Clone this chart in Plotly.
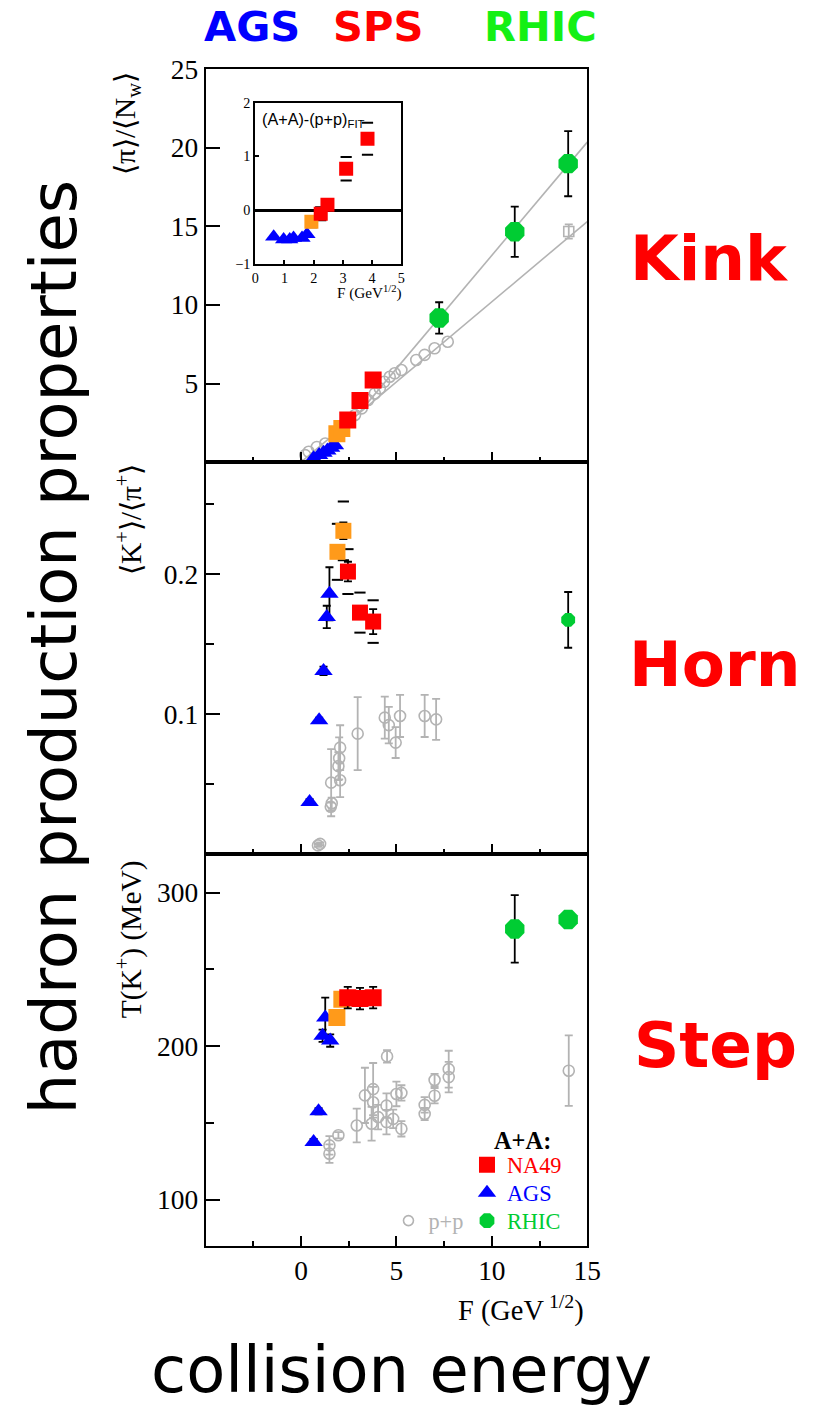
import plotly.graph_objects as go

# ---------------- data: top panel  <pi>/<N_w> ----------------
pi_ags_F = [0.66, 0.95, 1.18, 1.38, 1.58, 1.78]
pi_ags_val = [0.25, 0.45, 0.6, 0.75, 0.92, 1.08]
pi_or_F = [1.88, 2.14]
pi_or_val = [1.8, 2.14]
pi_na49_F = [2.45, 3.09, 3.78]
pi_na49_val = [2.68, 3.92, 5.22]
pi_rhic_F = [7.24, 11.2, 14.0]
pi_rhic_val = [9.17, 14.65, 18.98]
pi_rhic_err = [1.0, 1.6, 2.07]
pi_pp_F = [0.22, 0.4, 0.83, 1.27, 1.79, 2.14, 2.57, 2.83, 3.18, 3.52, 3.87, 4.13,
           4.36, 4.65, 4.91, 5.26, 6.04, 6.48, 7.0, 7.69]
pi_pp_val = [0.45, 0.66, 0.97, 1.19, 1.61, 2.04, 2.67, 3.0, 3.42, 3.95, 4.37, 4.69,
             5.11, 5.43, 5.65, 5.86, 6.5, 6.82, 7.24, 7.66]
pi_pp_rhic_F = [14.03]
pi_pp_rhic_val = [14.67]
pi_pp_rhic_err = [0.45]
fit_pp_F = [0.0, 15.0]
fit_pp_val = [0.0, 15.3]
fit_aa_F = [2.98, 15.0]
fit_aa_val = [3.04, 20.35]

# ---------------- data: inset (A+A)-(p+p)_FIT ----------------
d_ags_F = [0.63, 0.97, 1.18, 1.31, 1.6, 1.77]
d_ags_val = [-0.5, -0.55, -0.55, -0.52, -0.52, -0.45]
d_or_F = [1.92]
d_or_val = [-0.22]
d_or_err = [0.1]
d_na49_F = [2.24, 2.47, 3.11, 3.84]
d_na49_val = [-0.07, 0.1, 0.77, 1.33]
d_na49_err = [0.12, 0.08, 0.22, 0.3]

# ---------------- data: middle panel <K+>/<pi+> ----------------
kp_ags_F = [0.45, 0.95, 1.18, 1.35, 1.49]
kp_ags_val = [0.0374, 0.0957, 0.131, 0.1695, 0.186]
kp_ags_err = [0.002, 0.002, 0.003, 0.008, 0.019]
kp_or_F = [1.91, 2.22]
kp_or_val = [0.216, 0.231]
kp_or_stat = [0.003, 0.006]
kp_or_sys = [0.020, 0.021]
kp_na49_F = [2.46, 3.09, 3.78]
kp_na49_val = [0.2019, 0.1726, 0.1662]
kp_na49_stat = [0.007, 0.004, 0.0089]
kp_na49_sys = [0.016, 0.0143, 0.0152]
kp_rhic_F = [14.0]
kp_rhic_val = [0.1674]
kp_rhic_err = [0.0199]
kp_pp_F = [0.89, 1.0, 1.56, 1.61, 1.58, 2.05, 1.96, 2.0, 2.05, 2.97, 4.39, 4.6,
           4.96, 5.19, 6.48, 7.08]
kp_pp_val = [0.0064, 0.0075, 0.034, 0.0365, 0.0512, 0.0529, 0.063, 0.0686, 0.0762,
             0.0862, 0.0976, 0.0923, 0.0798, 0.0988, 0.0988, 0.0964]
kp_pp_err = [0.001, 0.001, 0.003, 0.004, 0.024, 0.012, 0.01, 0.015, 0.016,
             0.026, 0.015, 0.013, 0.011, 0.015, 0.015, 0.0146]

# ---------------- data: bottom panel T(K+) ----------------
t_ags_F = [0.66, 0.92, 1.13, 1.53, 1.27]
t_ags_val = [137.5, 157.5, 206.8, 203.6, 218.6]
t_ags_err = [2, 2, 4, 4, 13]
t_or_F = [1.88, 2.14]
t_or_val = [218.6, 230.5]
t_or_err = [3, 3]
t_na49_F = [2.45, 3.09, 3.78]
t_na49_val = [231.6, 231.0, 231.6]
t_na49_err = [7, 7, 7]
t_rhic_F = [11.2, 14.0]
t_rhic_val = [276.4, 282.5]
t_rhic_err = [22, 4]
t_pp_F = [4.51, 1.49, 1.49, 1.96, 2.92, 3.35, 3.78, 3.7, 3.78, 4.04, 4.48, 4.48,
          4.83, 5.26, 5.0, 5.26, 6.48, 6.48, 7.0, 7.0, 7.74, 7.74, 14.03]
t_pp_val = [193.3, 135.3, 129.9, 141.9, 148.3, 167.9, 172.0, 149.4, 163.4, 153.7,
            161.2, 150.5, 152.6, 146.1, 168.8, 169.5, 161.7, 155.8, 167.7, 177.9,
            185.0, 179.8, 184.0]
t_pp_err = [4, 6, 6, 2, 11, 18, 17, 11, 10, 8, 8, 8, 6, 5, 8, 5, 5, 4, 5, 4,
            12, 10, 23]

# ---------------- styles ----------------
RED = "#ff0000"
BLUE = "#0000ff"
ORANGE = "#ff9a1a"
GREEN = "#00cc33"
GRAY = "#b3b3b3"
SERIF = "Liberation Serif"
SANS = "DejaVu Sans"

W, H = 821, 1408
# compensation for the observed capture scaling
SX, OX = 0.984, 0.2
SY, OY = 0.9864, 12.9
FS = 1.015


def px_x(p):
    return ((p - OX) / SX) / W


def px_y(p):
    return 1 - ((p - OY) / SY) / H


def fs(s):
    return round(s * FS, 1)


fig = go.Figure()


def pts(x, y, xa, ya, symbol, color, size, err=None, errcolor="black", open_=False):
    marker = dict(symbol=symbol, size=size, color=color)
    if open_:
        marker["line"] = dict(color=color, width=1.6)
    else:
        marker["line"] = dict(width=0)
    tr = go.Scatter(x=x, y=y, mode="markers", marker=marker, xaxis=xa, yaxis=ya,
                    showlegend=False, hoverinfo="skip")
    if err is not None:
        tr.error_y = dict(type="data", array=err, visible=True, color=errcolor,
                          thickness=1.8, width=4)
    fig.add_trace(tr)


def caps(x, y, e, xa, ya):
    xs = list(x) + list(x)
    ys = [v + d for v, d in zip(y, e)] + [v - d for v, d in zip(y, e)]
    fig.add_trace(go.Scatter(x=xs, y=ys, mode="markers", xaxis=xa, yaxis=ya,
                             marker=dict(symbol="line-ew", size=8,
                                         line=dict(color="black", width=2)),
                             showlegend=False, hoverinfo="skip"))


# ---- top panel ----
fig.add_trace(go.Scatter(x=fit_pp_F, y=fit_pp_val, mode="lines", line=dict(color=GRAY, width=1.6),
                         xaxis="x", yaxis="y", showlegend=False, hoverinfo="skip"))
fig.add_trace(go.Scatter(x=fit_aa_F, y=fit_aa_val, mode="lines", line=dict(color=GRAY, width=1.6),
                         xaxis="x", yaxis="y", showlegend=False, hoverinfo="skip"))
pts(pi_pp_F, pi_pp_val, "x", "y", "circle-open", GRAY, 11, open_=True)
pts(pi_pp_rhic_F, pi_pp_rhic_val, "x", "y", "square-open", GRAY, 10, err=pi_pp_rhic_err,
    errcolor=GRAY, open_=True)
pts(pi_ags_F, pi_ags_val, "x", "y", "triangle-up", BLUE, 16)
pts(pi_or_F, pi_or_val, "x", "y", "square", ORANGE, 17)
pts(pi_na49_F, pi_na49_val, "x", "y", "square", RED, 17)
pts(pi_rhic_F, pi_rhic_val, "x", "y", "octagon", GREEN, 21, err=pi_rhic_err)

# ---- inset ----
pts(d_ags_F, d_ags_val, "x4", "y4", "triangle-up", BLUE, 15)
caps(d_or_F, d_or_val, d_or_err, "x4", "y4")
caps(d_na49_F, d_na49_val, d_na49_err, "x4", "y4")
pts(d_or_F, d_or_val, "x4", "y4", "square", ORANGE, 14)
pts(d_na49_F, d_na49_val, "x4", "y4", "square", RED, 14)

# ---- middle panel ----
pts(kp_pp_F, kp_pp_val, "x2", "y2", "circle-open", GRAY, 11, err=kp_pp_err, errcolor=GRAY, open_=True)
pts(kp_ags_F, kp_ags_val, "x2", "y2", "triangle-up", BLUE, 16, err=kp_ags_err)
caps(kp_or_F, kp_or_val, kp_or_sys, "x2", "y2")
caps(kp_na49_F, kp_na49_val, kp_na49_sys, "x2", "y2")
pts(kp_or_F, kp_or_val, "x2", "y2", "square", ORANGE, 16, err=kp_or_stat)
pts(kp_na49_F, kp_na49_val, "x2", "y2", "square", RED, 16, err=kp_na49_stat)
pts(kp_rhic_F, kp_rhic_val, "x2", "y2", "octagon", GREEN, 15, err=kp_rhic_err)

# ---- bottom panel ----
pts(t_pp_F, t_pp_val, "x3", "y3", "circle-open", GRAY, 11, err=t_pp_err, errcolor=GRAY, open_=True)
pts(t_ags_F, t_ags_val, "x3", "y3", "triangle-up", BLUE, 16, err=t_ags_err)
pts(t_or_F, t_or_val, "x3", "y3", "square", ORANGE, 17, err=t_or_err)
pts(t_na49_F, t_na49_val, "x3", "y3", "square", RED, 17, err=t_na49_err)
pts(t_rhic_F, t_rhic_val, "x3", "y3", "octagon", GREEN, 21, err=t_rhic_err)

# ---- legends: one legend box per row ----
legend_rows = [
    ("legend", "NA49", RED, "square", 16, 466, 1166),
    ("legend2", "AGS", BLUE, "triangle-up", 16, 466, 1194),
    ("legend3", "RHIC", GREEN, "octagon", 16, 466, 1222),
    ("legend4", "p+p", GRAY, "circle-open", 10, 387, 1222),
]
legend_layout = {}
for key, nm, col, sym, sz, lx, ly in legend_rows:
    mk = dict(symbol=sym, size=sz, color=col)
    mk["line"] = dict(color=col, width=1.6) if sym.endswith("open") else dict(width=0)
    fig.add_trace(go.Scatter(x=[None], y=[None], mode="markers", xaxis="x3", yaxis="y3",
                             name=f'<span style="color:{col}">{nm}</span>',
                             marker=mk, showlegend=True, legend=key))
    legend_layout[key] = dict(x=px_x(lx), y=px_y(ly), xanchor="left", yanchor="middle",
                              bgcolor="rgba(0,0,0,0)", borderwidth=0,
                              font=dict(family=SERIF, size=fs(22)))

# ---------------- axes ----------------
XD = [px_x(203), px_x(587)]


def xax(anchor, labels):
    return dict(domain=XD, anchor=anchor, range=[-5, 15], tickvals=[0, 5, 10, 15],
                ticktext=["0", "5", "10", "15"], showticklabels=labels,
                ticks="inside", ticklen=10, tickwidth=2, tickcolor="black",
                minor=dict(tickvals=[-2.5, 2.5, 7.5, 12.5], ticks="inside", ticklen=5,
                           tickwidth=2, tickcolor="black"),
                showline=True, linecolor="black", linewidth=2, mirror=True,
                showgrid=False, zeroline=False,
                tickfont=dict(family=SERIF, size=fs(27), color="black"))


def yax(anchor, dom, rng, tv, tt, minor=None):
    d = dict(domain=dom, anchor=anchor, range=rng, tickvals=tv, ticktext=tt,
             ticks="inside", ticklen=14, tickwidth=2, tickcolor="black",
             showline=True, linecolor="black", linewidth=2, mirror=True,
             showgrid=False, zeroline=False,
             tickfont=dict(family=SERIF, size=fs(27), color="black"))
    if minor:
        d["minor"] = dict(tickvals=minor, ticks="inside", ticklen=8, tickwidth=2,
                          tickcolor="black")
    return d


fig.update_layout(
    width=W, height=H, autosize=False,
    margin=dict(l=0, r=0, t=0, b=0),
    paper_bgcolor="white", plot_bgcolor="white",
    xaxis=xax("y", False),
    yaxis=yax("x", [px_y(462), px_y(68)], [0, 25], [5, 10, 15, 20, 25],
              ["5", "10", "15", "20", "25"]),
    xaxis2=xax("y2", False),
    yaxis2=yax("x2", [px_y(855), px_y(462)], [0, 0.28], [0.1, 0.2], ["0.1", "0.2"],
               minor=[0.05, 0.15, 0.25]),
    xaxis3=xax("y3", True),
    yaxis3=yax("x3", [px_y(1247), px_y(855)], [70, 325], [100, 200, 300],
               ["100", "200", "300"], minor=[150, 250]),
    xaxis4=dict(domain=[px_x(253), px_x(400)], anchor="y4", range=[0, 5], dtick=1,
                ticks="inside", ticklen=4, tickwidth=1.5, tickcolor="black",
                showline=True, linecolor="black", linewidth=2, mirror=True,
                showgrid=False, zeroline=False,
                tickfont=dict(family=SERIF, size=fs(14), color="black")),
    yaxis4=dict(domain=[px_y(263), px_y(102)], anchor="x4", range=[-1, 2], dtick=1,
                ticks="inside", ticklen=4, tickwidth=1.5, tickcolor="black",
                showline=True, linecolor="black", linewidth=2, mirror=True,
                showgrid=False, zeroline=True, zerolinecolor="black", zerolinewidth=3,
                tickfont=dict(family=SERIF, size=fs(14), color="black")),
    **legend_layout,
)

ann = []


def txt(t, x, y, size, color="black", family=SANS, angle=0, xanchor="center"):
    ann.append(dict(text=t, x=px_x(x), y=px_y(y), xref="paper", yref="paper",
                    showarrow=False, textangle=angle, xanchor=xanchor, yanchor="middle",
                    font=dict(family=family, size=fs(size), color=color)))


txt("<b>AGS</b>", 250, 25, 41, BLUE)
txt("<b>SPS</b>", 376, 25, 41, RED)
txt("<b>RHIC</b>", 540, 25, 41, "#14f014")
txt("<b>Kink</b>", 710, 258, 62, RED)
txt("<b>Horn</b>", 716, 665, 62, RED)
txt("<b>Step</b>", 716, 1047, 62, RED)
txt("hadron production properties", 50, 648, 63, angle=-90)
txt("collision energy", 400, 1372, 63)
txt("⟨π⟩/⟨N<sub>w</sub>⟩", 124, 123, 29, family=SERIF, angle=-90)
txt("⟨K<sup>+</sup>⟩/⟨π<sup>+</sup>⟩", 126, 520, 29, family=SERIF, angle=-90)
txt("T(K<sup>+</sup>) (MeV)", 126, 940, 29, family=SERIF, angle=-90)
txt("F (GeV<sup> 1/2</sup>)", 520, 1310, 28, family=SERIF)
txt("F (GeV<sup>1/2</sup>)", 368, 292, 15, family=SERIF)
txt("(A+A)-(p+p)<sub>FIT</sub>", 258, 119, 16, family="Liberation Sans", xanchor="left")
txt("<b>A+A:</b>", 522, 1142, 24, family=SERIF)

fig.update_layout(annotations=ann)
fig.write_html("out.html")
